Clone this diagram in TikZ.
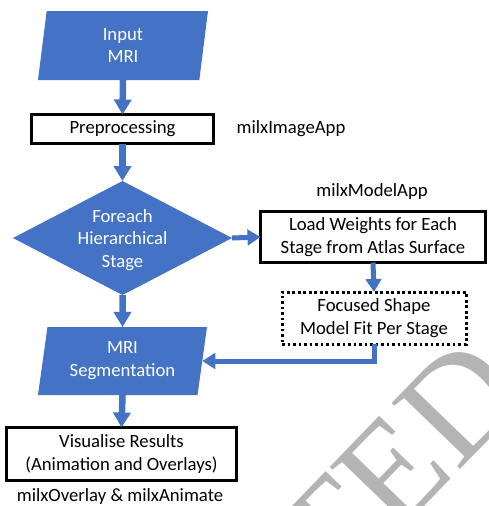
\documentclass[tikz,border=0pt]{standalone}
\usepackage{fontspec}
\setmainfont{Carlito}
\newfontfamily\wmfont{Liberation Serif}
\usetikzlibrary{shapes.geometric,arrows.meta}
\definecolor{ofblue}{HTML}{4472C4}
\definecolor{wmgray}{HTML}{B4B4B4}
\begin{document}
\begin{tikzpicture}[x=1pt,y=-1pt,
  every node/.style={font=\fontsize{18.7}{22.8}\selectfont, inner sep=0pt, outer sep=0pt},
  para/.style={trapezium, trapezium left angle=76, trapezium right angle=104,
    trapezium stretches body, fill=ofblue, text=white, align=center},
  decision/.style={diamond, fill=ofblue},
  wtext/.style={text=white, align=center},
  procbox/.style={draw=black, line width=3pt, fill=white, align=center},
  dotbox/.style={draw=black, line width=3pt, dash pattern=on 2.8pt off 2.7pt, fill=white, align=center},
  flowbig/.style={draw=ofblue, line width=6.5pt, -{Triangle[width=17pt,length=15pt]}},
  flowsmall/.style={draw=ofblue, line width=5pt, -{Triangle[width=15.5pt,length=13pt]}},
  applabel/.style={text=black}
]
\useasboundingbox (0,0) rectangle (488,506);
\begin{scope}
  \clip (0,0) rectangle (488,506);
  \node[font=\wmfont\fontsize{145}{145}\selectfont, text=wmgray, rotate=46, anchor=base east] (wm) at (530,397) {ACCEPTED};
\end{scope}

\node[para, minimum width=170, minimum height=69] (in) at (123,45.5) {Input\\MRI};
\node[procbox, minimum width=182, minimum height=29] (pre) at (122.5,129) {Preprocessing};
\node[applabel] (lab1) at (291,129) {milxImageApp};
\node[decision, minimum width=219, minimum height=114] (dia) at (122.5,238) {};
\node[wtext] (diat) at (122.5,240) {Foreach\\Hierarchical\\Stage};
\node[applabel] (lab2) at (372,192) {milxModelApp};
\node[procbox, minimum width=225, minimum height=51] (load) at (373,237) {Load Weights for Each\\Stage from Atlas Surface};
\node[dotbox, minimum width=184, minimum height=52] (fit) at (374,318) {Focused Shape\\Model Fit Per Stage};
\node[para, minimum width=169, minimum height=68] (seg) at (122.5,361) {MRI\\Segmentation};
\node[procbox, minimum width=230, minimum height=53] (vis) at (121.5,454) {Visualise Results\\(Animation and Overlays)};
\node[applabel] (lab3) at (120,497) {milxOverlay \& milxAnimate};

\draw[flowbig] (in.south) -- (pre.north);
\draw[flowbig] (pre.south) -- (dia.north);
\draw[flowsmall] (dia.east) -- (load.west);
\draw[flowsmall] (load.south) -- (fit.north);
\draw[flowbig] (dia.south) -- (seg.north);
\draw[flowsmall] (fit.south) |- (seg.east);
\draw[flowbig] (seg.south) -- (vis.north);
\end{tikzpicture}
\end{document}
